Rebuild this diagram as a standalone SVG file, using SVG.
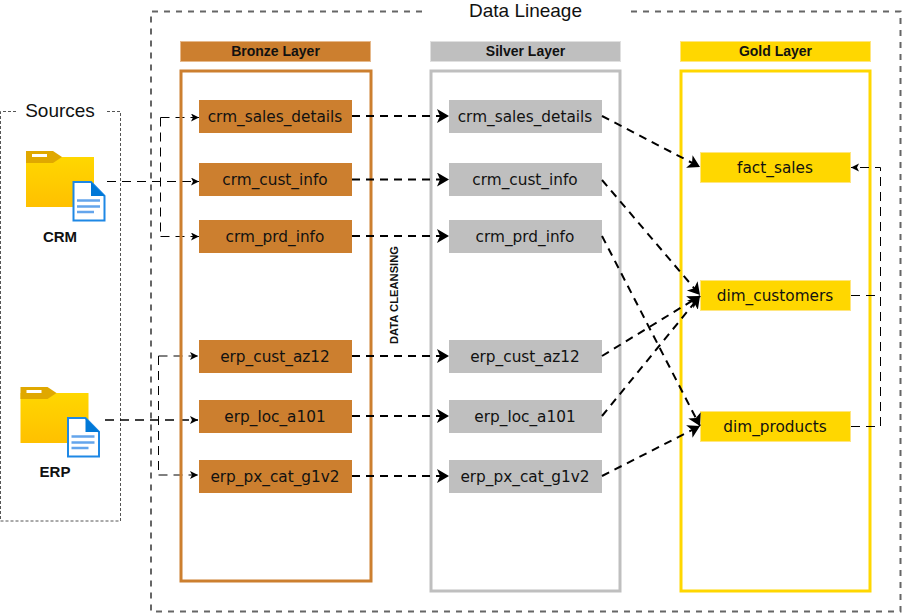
<svg xmlns="http://www.w3.org/2000/svg" width="902" height="613" viewBox="0 0 902 613">
<style>
text{font-family:"DejaVu Sans",Verdana,sans-serif;fill:#111;text-anchor:middle}
.n{font-size:15.300px}
.h{font-family:"Liberation Sans",Arial,sans-serif;font-size:14px;font-weight:700}
.l{font-family:"Liberation Sans",Arial,sans-serif;font-size:15px;font-weight:700}
.t{font-family:"Liberation Sans",Arial,sans-serif;font-size:19px}
.b{fill:#CC7F2F}.s{fill:#BFBFBF}.g{fill:#FFD700;stroke:#FFE680;stroke-width:1}
.c{fill:none;stroke:#000;stroke-width:2;stroke-dasharray:8 6;marker-end:url(#a)}
.f{fill:none;stroke:#000;stroke-width:1;stroke-dasharray:9 6}
.fa{marker-end:url(#a2)}
</style>
<defs>
<marker id="a" markerUnits="userSpaceOnUse" markerWidth="16" markerHeight="16" refX="12" refY="7" orient="auto"><path d="M0 0L12 7L0 14L3 7Z" fill="#000"/></marker>
<marker id="a2" markerUnits="userSpaceOnUse" markerWidth="10" markerHeight="10" refX="8" refY="4" orient="auto"><path d="M0 0L8 4L0 8L2 4Z" fill="#000"/></marker>
<linearGradient id="fg" x1="0" y1="0" x2="0" y2="1"><stop offset="0" stop-color="#FFD700"/><stop offset="1" stop-color="#FFC000"/></linearGradient>
<g id="folder">
<path d="M0 6H68V56H0Z" fill="url(#fg)"/>
<path d="M0 0H27L36 6L27 12H0Z" fill="#E0A800"/>
<rect x="6" y="3" width="15" height="3" fill="#fff"/>
<path d="M47.500 31H65L78.500 45V69.500H47.500Z" fill="#fff" stroke="#1E88E5" stroke-width="2"/>
<path d="M65 31L79 45H65Z" fill="#0078D7"/>
<path d="M51 49.500H74M51 55.500H74M51 61H68" stroke="#64A5EC" stroke-width="2.500"/>
</g>
</defs>
<g id="lineage"><path d="M422 11.500H151V611.500H900.500V11.500H630" fill="none" stroke="#666" stroke-width="2" stroke-dasharray="6 6"/><text class="t" x="525.500" y="17">Data Lineage</text></g>
<g id="sources"><path d="M16 111.500H0.500V521H120.500V111.500H105" fill="none" stroke="#555" stroke-width="1" stroke-dasharray="3 2"/><text class="t" x="60" y="117">Sources</text></g>
<g id="source-connectors">
<path class="f fa" d="M107 181.500H199"/>
<path class="f fa" d="M160.500 117.500H199"/>
<path class="f" d="M160.500 117.500V236.500"/>
<path class="f fa" d="M160.500 236.500H199"/>
<path class="f fa" d="M158.500 356H198"/>
<path class="f" d="M158.500 356V475"/>
<path class="f fa" d="M158.500 475H198"/>
<path class="f fa" style="stroke-width:1.500" d="M105 420H198"/>
</g>
<g id="bronze"><rect x="180.500" y="41.500" width="190" height="20" class="b" stroke="#E6B98C"/><text class="h" x="275.500" y="56">Bronze Layer</text><rect x="181" y="71" width="190" height="510" fill="none" stroke="#CC7F2F" stroke-width="3"/></g>
<g id="silver"><rect x="430.500" y="41.500" width="190" height="20" class="s" stroke="#E0E0E0"/><text class="h" x="525.500" y="56">Silver Layer</text><rect x="431" y="71" width="189" height="520" fill="none" stroke="#BFBFBF" stroke-width="3"/></g>
<g id="gold"><rect x="680.500" y="41.500" width="190" height="20" class="g"/><text class="h" x="775.500" y="56">Gold Layer</text><rect x="681" y="71" width="189" height="520" fill="none" stroke="#FFD700" stroke-width="3"/></g>
<g id="crm"><use href="#folder" x="26" y="151"/><text class="l" x="60" y="242">CRM</text></g>
<g id="erp"><use href="#folder" x="20.500" y="387"/><text class="l" x="55" y="477">ERP</text></g>
<g id="b1"><rect x="199" y="100" width="153" height="33" class="b"/><text class="n" x="275" y="122">crm_sales_details</text></g>
<g id="b2"><rect x="199" y="163" width="153" height="33" class="b"/><text class="n" x="275" y="185">crm_cust_info</text></g>
<g id="b3"><rect x="199" y="220" width="153" height="33" class="b"/><text class="n" x="275" y="242">crm_prd_info</text></g>
<g id="b4"><rect x="199" y="340" width="153" height="33" class="b"/><text class="n" x="275" y="362">erp_cust_az12</text></g>
<g id="b5"><rect x="199" y="400" width="153" height="33" class="b"/><text class="n" x="275" y="422">erp_loc_a101</text></g>
<g id="b6"><rect x="199" y="460" width="153" height="33" class="b"/><text class="n" x="275" y="482">erp_px_cat_g1v2</text></g>
<g id="s1"><rect x="449" y="100" width="153" height="33" class="s"/><text class="n" x="525" y="122">crm_sales_details</text></g>
<g id="s2"><rect x="449" y="163" width="153" height="33" class="s"/><text class="n" x="525" y="185">crm_cust_info</text></g>
<g id="s3"><rect x="449" y="220" width="153" height="33" class="s"/><text class="n" x="525" y="242">crm_prd_info</text></g>
<g id="s4"><rect x="449" y="340" width="153" height="33" class="s"/><text class="n" x="525" y="362">erp_cust_az12</text></g>
<g id="s5"><rect x="449" y="400" width="153" height="33" class="s"/><text class="n" x="525" y="422">erp_loc_a101</text></g>
<g id="s6"><rect x="449" y="460" width="153" height="33" class="s"/><text class="n" x="525" y="482">erp_px_cat_g1v2</text></g>
<g id="g1"><rect x="700.500" y="152.500" width="150" height="30" class="g"/><text class="n" x="775" y="173">fact_sales</text></g>
<g id="g2"><rect x="700.500" y="280.500" width="150" height="30" class="g"/><text class="n" x="775" y="301">dim_customers</text></g>
<g id="g3"><rect x="700.500" y="411.500" width="150" height="30" class="g"/><text class="n" x="775" y="432">dim_products</text></g>
<g id="cleansing"><text transform="translate(398 295) rotate(-90)" style="font-family:'Liberation Sans',Arial,sans-serif;font-size:11.200px;font-weight:700" x="0" y="0">DATA CLEANSING</text></g>
<g id="connectors">
<path class="c" d="M352 116H449"/>
<path class="c" d="M352 179.500H449"/>
<path class="c" d="M352 236H449"/>
<path class="c" d="M352 356H449"/>
<path class="c" d="M352 416H449"/>
<path class="c" d="M352 476H449"/>
<path class="c" d="M602 116L700 167"/>
<path class="c" d="M602 180L700 295"/>
<path class="c" d="M602 236L700 426"/>
<path class="c" d="M602 356L700 296"/>
<path class="c" d="M602 416L700 296"/>
<path class="c" d="M602 476L700 426"/>
<path class="f" d="M851 295.500H880.500"/>
<path class="f" d="M851 426.500H880.500V167.500H851" style="marker-end:url(#a2)"/>
</g>
</svg>
